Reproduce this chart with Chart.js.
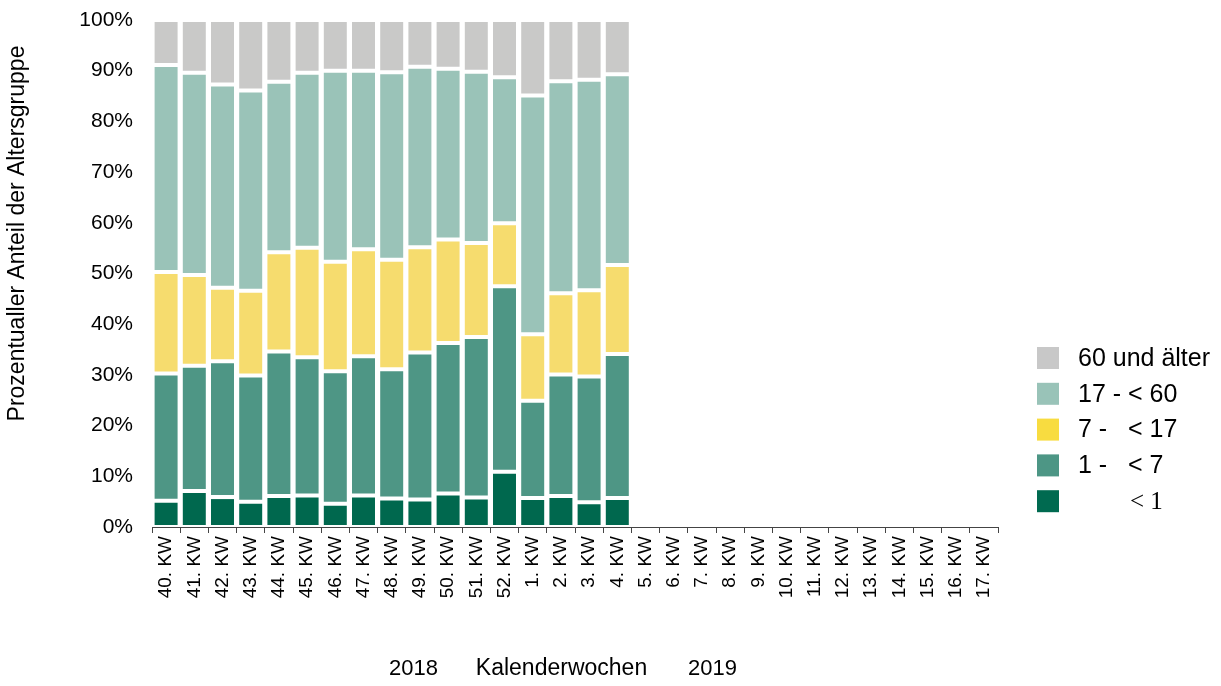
<!DOCTYPE html>
<html>
<head>
<meta charset="utf-8">
<script src="https://cdn.jsdelivr.net/npm/chart.js@4/dist/chart.umd.min.js"></script>
<style>
html,body{margin:0;padding:0;background:#fff;}
#wrap{width:1221px;height:686px;position:relative;}
</style>
</head>
<body>
<div id="wrap"><canvas id="c" width="1221" height="686"></canvas></div>
<script>
// Categories (calendar weeks)
const weeks = ['40. KW','41. KW','42. KW','43. KW','44. KW','45. KW','46. KW','47. KW','48. KW','49. KW','50. KW','51. KW','52. KW',
  '1. KW','2. KW','3. KW','4. KW','5. KW','6. KW','7. KW','8. KW','9. KW','10. KW','11. KW','12. KW','13. KW','14. KW','15. KW','16. KW','17. KW'];

// Series values (percent share per age group)
const under1     = [5.2, 7.1, 5.9, 5.0, 6.1, 6.2, 4.6, 6.2, 5.6, 5.4, 6.6, 5.8, 10.9, 5.7, 6.1, 4.9, 5.7];
const age1to7    = [25.1, 24.7, 26.8, 24.9, 28.5, 27.3, 26.1, 27.5, 25.5, 29.0, 29.7, 31.7, 36.6, 19.2, 24.0, 24.8, 28.4];
const age7to17   = [20.0, 17.9, 14.5, 16.7, 19.6, 21.6, 21.6, 21.1, 21.6, 20.8, 20.4, 18.5, 12.4, 13.1, 16.0, 17.0, 17.6];
const age17to60  = [40.8, 39.9, 40.1, 39.5, 33.6, 34.5, 37.7, 35.2, 37.0, 35.6, 33.7, 33.8, 28.8, 47.1, 41.8, 41.5, 37.6];
const age60plus  = [8.9, 10.4, 12.7, 13.9, 12.2, 10.4, 10.0, 10.0, 10.3, 9.2, 9.6, 10.2, 11.3, 14.9, 12.1, 11.8, 10.7];

// Tick labels
const yTicks = [0,10,20,30,40,50,60,70,80,90,100];

const FONT = "'Liberation Sans', Arial, sans-serif";

function ds(label, data, color, legendColor, serif) {
  return {
    label: label, data: data, backgroundColor: color, legendColor: legendColor, serifLabel: !!serif,
    borderColor: '#ffffff', borderWidth: 2, borderSkipped: false,
    barPercentage: 0.957, categoryPercentage: 1.0
  };
}

const customDraw = {
  id: 'customDraw',
  afterDraw(chart) {
    const ctx = chart.ctx;
    const a = chart.chartArea;
    ctx.save();
    // Y axis title
    ctx.fillStyle = '#000';
    ctx.font = '23px ' + FONT;
    ctx.textAlign = 'center';
    ctx.textBaseline = 'middle';
    ctx.translate(18, (a.top + a.bottom) / 2 - 40);
    ctx.rotate(-Math.PI / 2);
    ctx.fillText('Prozentualler Anteil der Altersgruppe', 0, 0);
    ctx.restore();

    // X axis title
    ctx.save();
    ctx.fillStyle = '#000';
    ctx.textBaseline = 'middle';
    const cx = (a.left + a.right) / 2 - 13.5;
    const ty = 669;
    ctx.font = '23px ' + FONT;
    ctx.textAlign = 'center';
    ctx.fillText('Kalenderwochen', cx, ty);
    ctx.font = '22px ' + FONT;
    ctx.textAlign = 'right';
    ctx.fillText('2018', cx - 123.5, ty);
    ctx.textAlign = 'left';
    ctx.fillText('2019', cx + 126.5, ty);
    ctx.restore();

    // Legend (reverse order: top = last dataset)
    ctx.save();
    const items = chart.data.datasets.slice().reverse();
    const boxX = a.right + 39, textX = a.right + 80;
    const startY = 358, step = 35.8;
    items.forEach((d, i) => {
      const y = startY + i * step;
      ctx.fillStyle = d.legendColor;
      ctx.fillRect(boxX, y - 11, 22, 22);
      ctx.fillStyle = '#000';
      ctx.textBaseline = 'middle';
      ctx.textAlign = 'left';
      if (d.serifLabel) {
        ctx.font = "25px 'Liberation Serif', 'Times New Roman', serif";
        ctx.fillText(d.label, textX + 52, y + 1);
      } else {
        ctx.font = '25px ' + FONT;
        ctx.fillText(d.label, textX, y + 1);
      }
    });
    ctx.restore();
  }
};

new Chart(document.getElementById('c'), {
  type: 'bar',
  data: {
    labels: weeks,
    datasets: [
      ds('< 1', under1, '#00684e', '#006a50', true),
      ds('1 -   < 7', age1to7, '#4e9685', '#4d9685'),
      ds('7 -   < 17', age7to17, '#f6dc6e', '#f8dc40'),
      ds('17 - < 60', age17to60, '#9ac3b8', '#99c3b8'),
      ds('60 und älter', age60plus, '#c9c9c8', '#c8c8c8')
    ]
  },
  options: {
    responsive: false,
    animation: false,
    devicePixelRatio: 1,
    layout: { padding: { left: 0, right: 223, top: 20, bottom: 0 } },
    plugins: { legend: { display: false }, tooltip: { enabled: false }, title: { display: false } },
    scales: {
      x: {
        stacked: true,
        offset: true,
        grid: { display: true, drawOnChartArea: false, drawTicks: true, tickLength: 6, color: '#444', offset: true, lineWidth: 1 },
        border: { display: true, color: '#444', width: 1 },
        ticks: { color: '#000', font: { family: FONT, size: 19 }, minRotation: 90, maxRotation: 90, autoSkip: false, padding: 3 },
        afterFit(s) { s.height = 159; s.paddingTop = 0; }
      },
      y: {
        stacked: true,
        min: 0, max: 100,
        afterBuildTicks(s) { s.ticks = yTicks.map(v => ({ value: v })); },
        grid: { display: false, drawTicks: false },
        border: { display: false },
        ticks: { color: '#000', font: { family: FONT, size: 21 }, padding: 19, callback: v => v + '%' },
        afterFit(s) { s.width = 152; s.paddingTop = 0; s.paddingBottom = 0; }
      }
    }
  },
  plugins: [customDraw]
});
</script>
</body>
</html>
